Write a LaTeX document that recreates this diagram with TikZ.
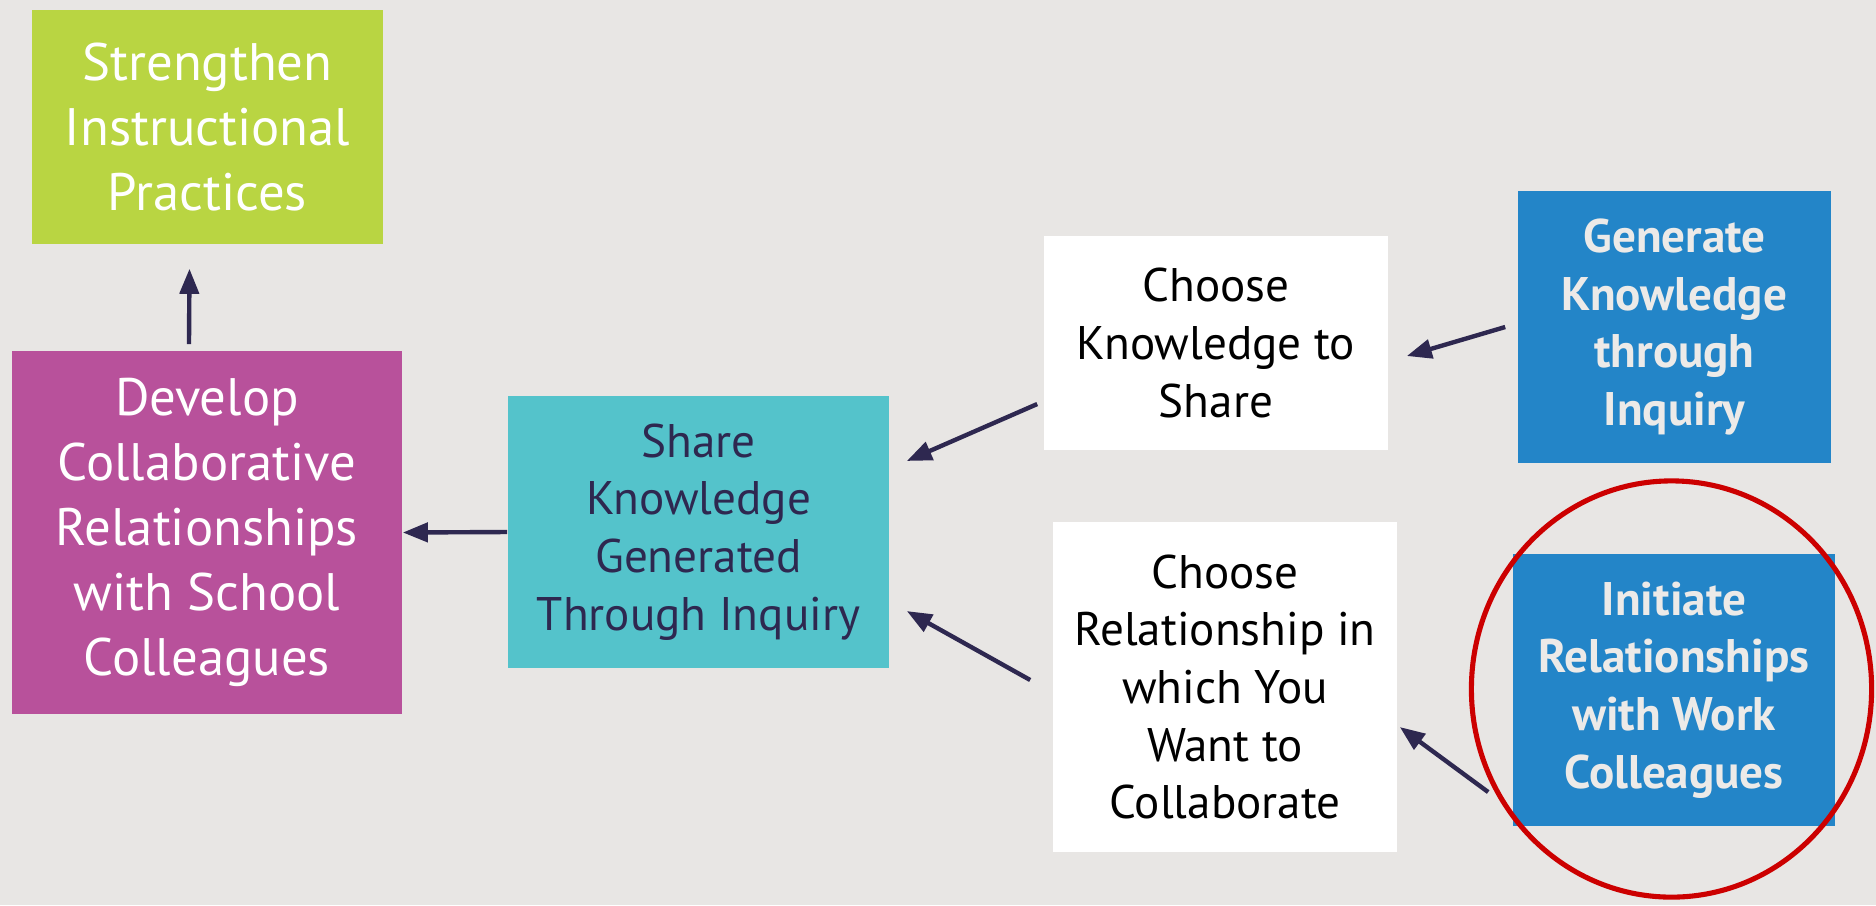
\documentclass[tikz,border=0pt]{standalone}
\usepackage{fontspec}
\setmainfont{PT Sans}
\usepackage{tikz}
\usetikzlibrary{positioning, arrows.meta, calc, shapes.geometric}
\definecolor{pagegrey}{RGB}{232, 230, 228}
\definecolor{limegreen}{RGB}{185, 213, 66}
\definecolor{plum}{RGB}{184, 81, 155}
\definecolor{aqua}{RGB}{84, 195, 203}
\definecolor{ocean}{RGB}{35, 133, 200}
\definecolor{inkpurple}{RGB}{46, 40, 80}
\definecolor{ringred}{RGB}{204, 0, 0}
\definecolor{softwhite}{RGB}{236, 234, 232}

\begin{document}
\begin{tikzpicture}[x=0.01cm, y=-0.01cm,
      flowbox/.style={fill=#1, align=center, inner sep=0pt},
      bigtext/.style={font=\fontsize{15}{18.5}\selectfont},
      smalltext/.style={font=\fontsize{13.4}{16.4}\selectfont},
      boldtext/.style={font=\fontsize{13.4}{16.4}\selectfont\bfseries},
      flowarrow/.style={-{Triangle[length=0.25cm, width=0.19cm]}, line width=1.25pt, inkpurple}
    ]
      \fill[pagegrey] (0,0) rectangle (1876,905);
      \useasboundingbox (0,0) rectangle (1876,905);

      % left column
      \node[flowbox=limegreen, bigtext, text=white, minimum width=3.51cm, minimum height=2.34cm] (strengthen) at (207.5,127) {Strengthen\\Instructional\\Practices};
      \node[flowbox=plum, bigtext, text=white, minimum width=3.90cm, minimum height=3.63cm] (develop) at (207,532.5) {Develop\\Collaborative\\Relationships\\with School\\Colleagues};
      \node[flowbox=aqua, smalltext, text=inkpurple, minimum width=3.81cm, minimum height=2.72cm] (share) at (698.5,532) {Share\\Knowledge\\Generated\\Through Inquiry};

      % middle column
      \node[flowbox=white, smalltext, text=black, minimum width=3.44cm, minimum height=2.14cm] (chooseknow) at (1216,343) {Choose\\Knowledge to\\Share};
      \node[flowbox=white, smalltext, text=black, minimum width=3.44cm, minimum height=3.30cm] (chooserel) at (1225,687) {Choose\\Relationship in\\which You\\Want to\\Collaborate};

      % right column
      \node[flowbox=ocean, boldtext, text=softwhite, minimum width=3.13cm, minimum height=2.72cm] (generate) at (1674.5,327) {Generate\\Knowledge\\through\\Inquiry};
      \node[flowbox=ocean, boldtext, text=softwhite, minimum width=3.22cm, minimum height=2.72cm] (initiate) at (1674,690) {Initiate\\Relationships\\with Work\\Colleagues};
      \node[draw=ringred, line width=1.45pt, ellipse, minimum width=4.00cm, minimum height=4.16cm] (ring) at (1671.5,689) {};

      \draw[flowarrow] ([xshift=-0.18cm, yshift=0.06cm]develop.north) -- ([xshift=-0.18cm, yshift=-0.24cm]strengthen.south);
      \draw[flowarrow] (share.west) -- (develop.east);
      \draw[flowarrow] ([xshift=-0.06cm, yshift=-0.61cm]chooseknow.west) -- ([xshift=0.17cm, yshift=0.71cm]share.east);
      \draw[flowarrow] ([xshift=-0.22cm, yshift=0.07cm]chooserel.west) -- ([xshift=0.17cm, yshift=-0.79cm]share.east);
      \draw[flowarrow] ([xshift=-0.12cm]generate.west) -- ([xshift=0.18cm, yshift=-0.13cm]chooseknow.east);
      \draw[flowarrow] ([xshift=-0.24cm, yshift=-1.02cm]initiate.west) -- ([xshift=0.02cm, yshift=-0.40cm]chooserel.east);
    \end{tikzpicture}
\end{document}
